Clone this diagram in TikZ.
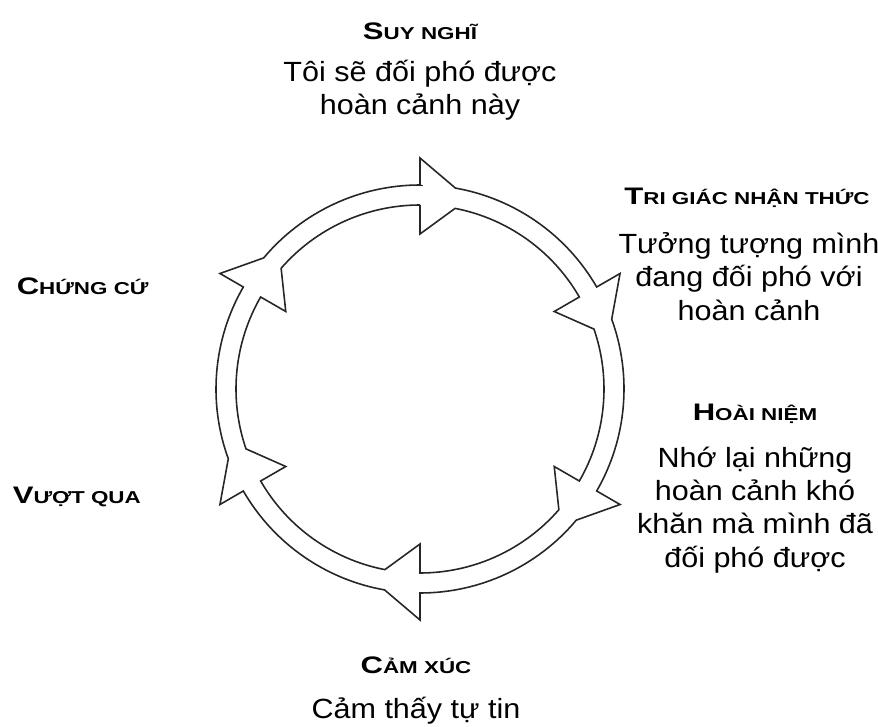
\documentclass[tikz,border=0pt]{standalone}
\usepackage{fontspec}
\setmainfont{Liberation Sans}
\newfontfamily\headfam[FakeStretch=1.3]{Liberation Sans}
\newfontfamily\bodyfam[FakeStretch=1.1]{Liberation Sans}
\newcommand{\bodyfont}{\bodyfam\fontsize{15.8}{18.9}\selectfont}
\newcommand{\smallcap}[2]{{\headfam\bfseries\fontsize{13.6}{16}\selectfont #1\fontsize{9.8}{12}\selectfont #2}}

\begin{document}
\begin{tikzpicture}[line width = 0.9pt,
                        head/.style = {anchor = base, inner sep = 0pt},
                        lefthead/.style = {anchor = base west, inner sep = 0pt},
                        body/.style = {anchor = base, align = center, inner sep = 0pt, font = \bodyfont}]
      \useasboundingbox (-8.4, -6.74) rectangle (9.16, 7.78);
      % ring with six barbs, outer and inner line
      \draw [black!85] (90:4.08) \foreach \a in {90, 30, -30, -90, -150, 150}
        { -- (\a:4.62) -- (\a-10:4.08) arc [start angle = \a-10, end angle = \a-60, radius = 4.08] } -- cycle;
      \draw [black!85] (90:3.68) \foreach \a in {90, 30, -30, -90, -150, 150}
        { -- (\a:3.10) -- (\a-11:3.68) arc [start angle = \a-11, end angle = \a-60, radius = 3.68] } -- cycle;
      % the base of a body node is the base of its last line
      \node [head] (h1) at (0, 6.98){\smallcap{S}{UY NGHĨ}};
      \node [body] (b1) at (0, 5.48){Tôi sẽ đối phó được\\hoàn cảnh này};
      \node [head] (h2) at (6.54, 3.68){\smallcap{T}{RI GIÁC NHẬN THỨC}};
      \node [body] (b2) at (6.58, 1.38){Tưởng tượng mình\\đang đối phó với\\hoàn cảnh};
      \node [head] (h3) at (6.7, -0.62){\smallcap{H}{OÀI NIỆM}};
      \node [body] (b3) at (6.7, -3.56){Nhớ lại những\\hoàn cảnh khó\\khăn mà mình đã\\đối phó được};
      \node [head] (h4) at (-0.08, -5.68){\smallcap{C}{ẢM XÚC}};
      \node [body] (b4) at (-0.08, -6.58){Cảm thấy tự tin};
      \node [lefthead] (h5) at (-8.08, 1.9){\smallcap{C}{HỨNG CỨ}};
      \node [lefthead] (h6) at (-8.16, -2.28){\smallcap{V}{ƯỢT QUA}};
    \end{tikzpicture}
\end{document}
